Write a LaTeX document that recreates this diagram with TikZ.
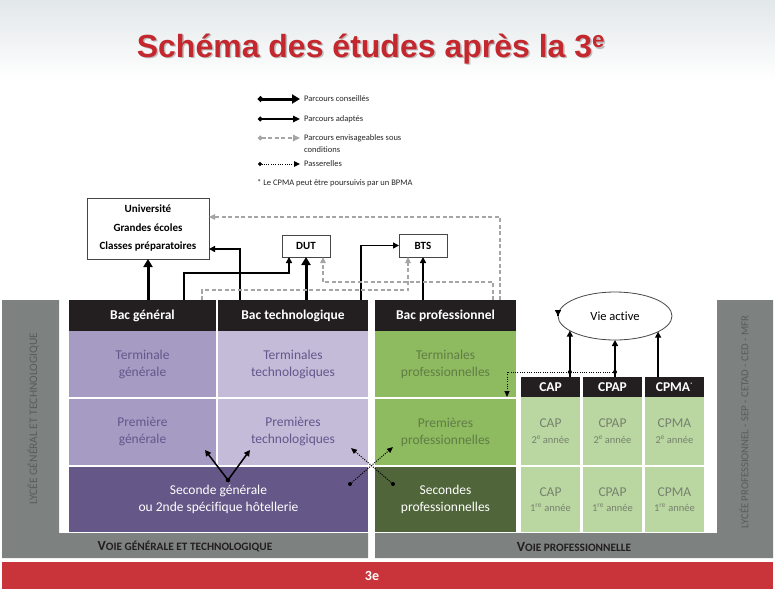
\documentclass[tikz,border=0pt]{standalone}
\usepackage{fontspec}
\setmainfont{Carlito}[Ligatures={NoCommon}]
\newfontfamily\titlefont{Liberation Sans}
\usetikzlibrary{arrows.meta,shapes.geometric,calc}
\definecolor{bgpat}{RGB}{226,231,233}
\definecolor{titlered}{RGB}{196,40,46}
\definecolor{hdrblack}{RGB}{35,31,32}
\definecolor{purpleA}{RGB}{166,155,195}
\definecolor{purpleB}{RGB}{196,187,216}
\definecolor{purpleD}{RGB}{101,87,135}
\definecolor{purpletext}{RGB}{100,86,140}
\definecolor{greenA}{RGB}{142,186,96}
\definecolor{greenD}{RGB}{80,101,58}
\definecolor{greenL}{RGB}{186,214,161}
\definecolor{greentext}{RGB}{96,125,70}
\definecolor{captext}{RGB}{118,130,110}
\definecolor{greyL}{RGB}{125,129,128}
\definecolor{greytext}{RGB}{88,93,91}
\definecolor{redbar}{RGB}{200,52,57}
\definecolor{condgrey}{RGB}{165,165,165}
\definecolor{boxline}{RGB}{70,70,70}
\definecolor{legtext}{RGB}{38,38,38}
\begin{document}
\begin{tikzpicture}[x=1pt,y=-1pt,
  cell/.style={inner sep=0pt, outer sep=0pt, align=center, font=\fontsize{13.5}{17}\selectfont},
  hdr/.style={cell, fill=hdrblack, text=white, font=\bfseries\fontsize{13.5}{15}\selectfont},
  capcell/.style={cell, fill=greenL, text=captext, minimum width=59pt, font=\fontsize{13.5}{15.5}\selectfont},
  topbox/.style={draw=boxline, line width=0.8pt, fill=white, inner sep=0pt, outer sep=0pt, align=center, font=\bfseries\fontsize{11}{18.5}\selectfont},
  legtxt/.style={anchor=west, inner sep=0pt, text=legtext, align=left, font=\fontsize{8.5}{11.5}\selectfont},
  cons/.style={line width=3pt, -{Triangle[width=9pt,length=8pt]}},
  adap/.style={line width=1.5pt, -{Triangle[width=6pt,length=6pt]}},
  cond/.style={line width=1.2pt, color=condgrey, dash pattern=on 4pt off 2.5pt, -{Triangle[width=5.5pt,length=6pt]}},
  pass/.style={line width=1pt, dash pattern=on 1pt off 1.3pt, -{Triangle[width=5pt,length=6pt]}},
  pdot/.style={fill=black},
  voie/.style={text=hdrblack, font=\bfseries},
  vert/.style={rotate=90, text=greytext, inner sep=0pt}
]
\useasboundingbox (0,0) rectangle (775,589);
\fill[white] (0,0) rectangle (775,589);
\shade[top color=bgpat, bottom color=white] (0,0) rectangle (775,80);

% title
\node[anchor=base, text=black!35, opacity=0.7, font=\titlefont\bfseries\fontsize{32}{36}\selectfont] (titleshadow) at (372.5,58.5) {Schéma des études après la 3\textsuperscript{e}};
\node[anchor=base, text=titlered, font=\titlefont\bfseries\fontsize{32}{36}\selectfont] (title) at (371,57) {Schéma des études après la 3\textsuperscript{e}};

% legend
\coordinate (ls1) at (258,99);  \coordinate (le1) at (300,99);
\coordinate (ls2) at (258,119); \coordinate (le2) at (300,119);
\coordinate (ls3) at (258,138); \coordinate (le3) at (300,138);
\coordinate (ls4) at (258,164); \coordinate (le4) at (300,164);
\draw[line width=3pt, {Circle[length=5pt]}-{Triangle[width=9pt,length=8pt]}] (ls1) -- (le1);
\draw[line width=1.6pt, {Circle[length=4.5pt]}-{Triangle[width=6.5pt,length=7pt]}] (ls2) -- (le2);
\draw[line width=1.6pt, color=condgrey, dash pattern=on 4pt off 2.5pt, {Circle[length=4.5pt]}-{Triangle[width=6.5pt,length=7pt]}] (ls3) -- (le3);
\draw[line width=1pt, dash pattern=on 1pt off 1.3pt, {Circle[length=4pt]}-{Triangle[width=5.5pt,length=6pt]}] (ls4) -- (le4);
\node[legtxt] (lt1) at (304,99) {Parcours conseillés};
\node[legtxt] (lt2) at (304,119) {Parcours adaptés};
\node[legtxt] (lt3) at (304,143.5) {Parcours envisageables sous\\conditions};
\node[legtxt] (lt4) at (304,164) {Passerelles};
\node[legtxt] (lt5) at (257,183) {* Le CPMA peut être poursuivis par un BPMA};

% grey frames and red bar
\fill[greyL] (2,300) -- (59,300) -- (59,533) -- (368,533) -- (368,558) -- (2,558) -- cycle;
\fill[greyL] (375,533) -- (717,533) -- (717,300) -- (773,300) -- (773,558) -- (375,558) -- cycle;
\fill[redbar] (2,562) rectangle (773,589);
\node[text=white, font=\bfseries\fontsize{14}{16}\selectfont] (troisieme) at (372,576) {3e};
\node[voie] (voieg) at (185,546.5) {{\fontsize{14}{16}\selectfont V}{\fontsize{11.3}{16}\selectfont OIE GÉNÉRALE ET TECHNOLOGIQUE}};
\node[voie] (voiep) at (574,546.5) {{\fontsize{14}{16}\selectfont V}{\fontsize{11.3}{16}\selectfont OIE PROFESSIONNELLE}};
\node[vert, font=\fontsize{11.5}{13}\selectfont] (lyg) at (33,418.5) {LYCÉE GÉNÉRAL ET TECHNOLOGIQUE};
\node[vert, font=\fontsize{10.7}{13}\selectfont] (lyp) at (744,422) {LYCÉE PROFESSIONNEL - SEP - CETAD - CED - MFR};

% voie generale et technologique
\node[hdr, minimum width=147pt, minimum height=31pt] (bacg) at (142.5,315.5) {Bac général};
\node[hdr, minimum width=150pt, minimum height=31pt] (bact) at (293,315.5) {Bac technologique};
\node[cell, fill=purpleA, text=purpletext, minimum width=147pt, minimum height=66pt] (termg) at (142.5,364) {Terminale\\générale};
\node[cell, fill=purpleB, text=purpletext, minimum width=150pt, minimum height=66pt] (termt) at (293,364) {Terminales\\technologiques};
\node[cell, fill=purpleA, text=purpletext, minimum width=147pt, minimum height=66pt] (premg) at (142.5,432) {Première\\générale};
\node[cell, fill=purpleB, text=purpletext, minimum width=150pt, minimum height=66pt] (premt) at (293,432) {Premières\\technologiques};
\node[cell, fill=purpleD, text=white, minimum width=299pt, minimum height=65pt] (secg) at (218.5,499.5) {Seconde générale\\ou 2nde spécifique hôtellerie};

% voie professionnelle
\node[hdr, minimum width=141pt, minimum height=31pt] (bacp) at (445.5,315.5) {Bac professionnel};
\node[cell, fill=greenA, text=greentext, minimum width=141pt, minimum height=66pt] (termp) at (445.5,364) {Terminales\\professionnelles};
\node[cell, fill=greenA, text=greentext, minimum width=141pt, minimum height=66pt] (premp) at (445.5,432) {Premières\\professionnelles};
\node[cell, fill=greenD, text=white, minimum width=141pt, minimum height=65pt] (secp) at (445.5,499.5) {Secondes\\professionnelles};

\node[hdr, minimum width=59pt, minimum height=20pt] (caph) at (550.5,387) {CAP};
\node[hdr, minimum width=59pt, minimum height=20pt] (cpaph) at (612.5,387) {CPAP};
\node[hdr, minimum width=59pt, minimum height=20pt] (cpmah) at (674.5,387) {CPMA\textsuperscript{\tiny *}};
\node[capcell, minimum height=68pt] (cap2) at (550.5,431) {CAP\\{\fontsize{10.5}{12}\selectfont 2\textsuperscript{e}\,année}};
\node[capcell, minimum height=68pt] (cpap2) at (612.5,431) {CPAP\\{\fontsize{10.5}{12}\selectfont 2\textsuperscript{e}\,année}};
\node[capcell, minimum height=68pt] (cpma2) at (674.5,431) {CPMA\\{\fontsize{10.5}{12}\selectfont 2\textsuperscript{e}\,année}};
\node[capcell, minimum height=65pt] (cap1) at (550.5,499.5) {CAP\\{\fontsize{10.5}{12}\selectfont 1\textsuperscript{re} année}};
\node[capcell, minimum height=65pt] (cpap1) at (612.5,499.5) {CPAP\\{\fontsize{10.5}{12}\selectfont 1\textsuperscript{re} année}};
\node[capcell, minimum height=65pt] (cpma1) at (674.5,499.5) {CPMA\\{\fontsize{10.5}{12}\selectfont 1\textsuperscript{re} année}};

% top boxes
\node[topbox, minimum width=122pt, minimum height=61pt] (univ) at (148,228.5) {Université\\Grandes écoles\\Classes préparatoires};
\node[topbox, minimum width=48pt, minimum height=22pt] (dut) at (306,246) {DUT};
\node[topbox, minimum width=48pt, minimum height=23pt] (bts) at (423,245.5) {BTS};
\node[ellipse, draw=boxline, line width=0.8pt, fill=white, inner sep=0pt, outer sep=0pt, minimum width=114pt, minimum height=48pt, font=\fontsize{12.5}{15}\selectfont] (vie) at (615,316) {Vie active};

% conseilles
\draw[cons] (univ.south |- bacg.north) -- (univ.south);
\draw[cons] (dut.south |- bact.north) -- (dut.south);
% adaptes
\draw[adap] ($(bacg.north)+(41.5,0)$) -- ++(0,-27) -| ($(dut.south)+(-17,0)$);
\draw[adap] ($(bact.north)+(-53,0)$) |- ($(univ.east)+(0,20.5)$);
\draw[adap] ($(bact.north)+(68,0)$) |- (bts.west);
\draw[adap] (bts.south |- bacp.north) -- (bts.south);
\draw[adap] (vie.west |- bacp.east) -- (vie.west);
\draw[adap] (vie.198 |- caph.north) -- (vie.198);
\draw[adap] (vie.south |- cpaph.north) -- (vie.south);
\draw[adap] (vie.340 |- cpmah.north) -- (vie.340);
% conditions
\draw[cond] ($(bacg.north)+(59.5,0)$) -- ++(0,-10) -| ($(bts.south)+(-15,0)$);
\draw[cond] ($(bacp.north)+(47.5,0)$) -- ++(0,-18) -| ($(dut.south)+(17,0)$);
\draw[cond] ($(bacp.north)+(54.5,0)$) |- ($(univ.east)+(0,-11.5)$);

% seconde -> premieres
\coordinate (sdot) at ($(secg.center)+(9.5,-19.5)$);
\draw[adap] (sdot) -- ($(premg.south east)+(-11,-15)$);
\draw[adap] (sdot) -- ($(premt.south west)+(32,-15)$);
\fill[pdot] (sdot) circle (2.3pt);

% passerelles
\coordinate (pg) at ($(secg.east)+(-18,-15.5)$);
\coordinate (pp) at ($(secp.west)+(18,-15.5)$);
\draw[pass] (pg) -- ($(premp.west)+(18,15)$);
\draw[pass] (pp) -- ($(premt.east)+(-17,16)$);
\fill[pdot] (pg) circle (2pt);
\fill[pdot] (pp) circle (2pt);
\coordinate (pcpap) at ($(vie.south |- cpaph.north)+(0,-5)$);
\coordinate (pcap) at ($(vie.198 |- caph.north)+(0,-5)$);
\coordinate (pend) at ($(termp.south east)+(-9,0)$);
\draw[pass] (pcpap) -- (pcap) -| (pend);
\fill[pdot] (pcpap) circle (2pt);
\fill[pdot] (pcap) circle (2pt);
\end{tikzpicture}
\end{document}
